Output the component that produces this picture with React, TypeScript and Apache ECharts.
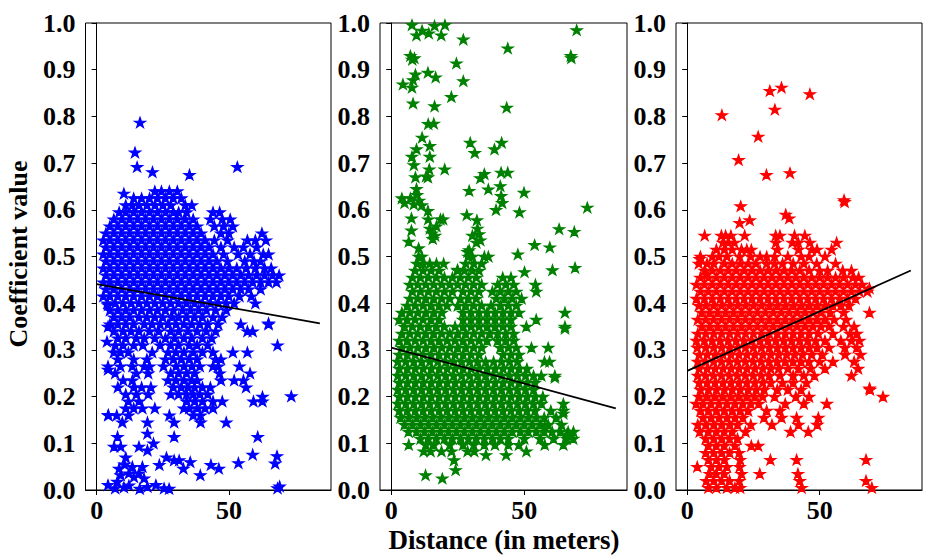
import React, { useEffect, useRef } from "react";
import * as echarts from "echarts";

// ---------- DATA ----------
// Dense parts are written as rows: [y, x1, x2, ...]; sparse points as [x, y].
const blueRows: number[][] = [
  [0.640, 22, 24.5, 27.5, 30.5],
  [0.625, 14, 17, 20, 23, 26, 29, 32],
  [0.610, 11, 13.5, 16, 19, 22, 25, 28, 33.5, 36],
  [0.595, 8.5, 11, 14, 17, 20, 23, 26, 29, 31, 34, 44, 46.5],
  [0.580, 6.5, 9.5, 12.5, 15.5, 18.5, 21.5, 24.5, 27.5, 30.5, 33.5, 36.5, 43, 47.5, 50.5],
  [0.565, 5, 8, 11, 14, 17, 20, 23, 26, 29, 32, 35, 38, 44.5, 48, 51.5],
  [0.550, 3.5, 6.5, 9.5, 12.5, 15.5, 18.5, 21.5, 24.5, 27.5, 30.5, 33.5, 36.5, 39.5, 47, 50, 62.5],
  [0.535, 2.5, 5, 8, 11, 14, 17, 20, 23, 26, 29, 32, 35, 38, 41, 44.5, 49.5, 57, 60, 64],
  [0.520, 3.5, 6.5, 9.5, 12.5, 15.5, 18.5, 21.5, 24.5, 27.5, 30.5, 33.5, 36.5, 39.5, 42.5, 47, 52, 55.5, 60.5],
  [0.505, 2.5, 5, 8, 11, 14, 17, 20, 23, 26, 29, 32, 35, 38, 41, 44, 48, 53.5, 58, 63, 65],
  [0.490, 3.5, 6.5, 9.5, 12.5, 15.5, 18.5, 21.5, 24.5, 27.5, 30.5, 33.5, 36.5, 39.5, 42.5, 45.5, 49.5, 56, 59.5, 62],
  [0.475, 2.5, 5, 8, 11, 14, 17, 20, 23, 26, 29, 32, 35, 38, 41, 44, 47, 50, 53, 56.5, 60, 63.5, 66],
  [0.460, 3.5, 6.5, 9.5, 12.5, 15.5, 18.5, 21.5, 24.5, 27.5, 30.5, 33.5, 36.5, 39.5, 42.5, 45.5, 48.5, 51.5, 54.5, 57.5, 60.5, 63.5, 66.5, 69],
  [0.445, 2.5, 5, 8, 11, 14, 17, 20, 23, 26, 29, 32, 35, 38, 41, 44, 47, 50, 53, 56, 59, 62, 65, 68],
  [0.430, 3.5, 6.5, 9.5, 12.5, 15.5, 18.5, 21.5, 24.5, 27.5, 30.5, 33.5, 36.5, 39.5, 42.5, 45.5, 48.5, 51.5, 54.5, 57.5, 62],
  [0.415, 2.5, 5, 8, 11, 14, 17, 20, 23, 26, 29, 32, 35, 38, 41, 44, 47, 50, 54, 58.5],
  [0.400, 4, 7, 10, 13, 16, 19, 22, 25, 28, 31, 34, 37, 40, 43, 46, 49, 52, 60],
  [0.385, 5, 8, 11, 14, 17, 20, 23, 26, 29, 32.5, 35.5, 38.5, 41.5, 45, 49],
  [0.370, 6.5, 9.5, 12.5, 16, 19, 22, 25, 28.5, 31, 34, 37, 40, 44, 47.5],
  [0.355, 5, 8, 11, 14, 18, 21, 24, 27, 30, 33, 36, 39, 42, 46, 54.5, 65],
  [0.340, 6.5, 10, 13, 16, 20, 23.5, 28, 31, 34.5, 38, 41.5, 45, 57, 59],
  [0.325, 8, 11, 15, 18, 22, 26, 29.5, 33, 36, 40, 43.5],
  [0.310, 7, 10, 14, 17.5, 24, 28, 31, 35, 38, 42, 68.4],
  [0.295, 6.5, 9, 12, 21, 27, 30, 33, 36.5, 40, 44, 51.5, 57],
  [0.280, 8, 14, 19, 26, 29, 32, 35, 38, 45, 47],
  [0.265, 4.3, 9, 13.5, 18, 20, 25.3, 30, 33, 36, 39, 44, 46, 54],
  [0.250, 7, 15, 19.5, 28, 31, 34, 37, 46.5, 58],
  [0.235, 10, 13.5, 27, 30, 33, 36, 38, 47, 52, 55.5],
  [0.220, 8, 14, 17, 20.5, 29, 32, 34.5, 37, 40, 43, 56.5],
  [0.205, 11, 15, 19.5, 28, 31, 34, 36.5, 39, 42],
  [0.190, 12, 16, 34, 37, 40, 44, 47.5, 59.3, 62.7],
  [0.175, 11, 14, 17.3, 22, 33, 35, 38, 41, 44],
  [0.160, 4.4, 7.6, 12, 27.5, 36.5, 39.3],
  [0.145, 9.7, 19.2, 29.3, 39.3, 49],
];
const blueExtra: number[][] = [
  [16.4, 0.787], [14.5, 0.723], [15.3, 0.692], [21.1, 0.681], [35.1, 0.675], [53.2, 0.692],
  [10.3, 0.635], [73.6, 0.201], [65, 0.357], [62.7, 0.2], [60.9, 0.114], [59, 0.076],
  [67.5, 0.057], [68.2, 0.073], [68.4, 0.004], [69.2, 0.008], [53.6, 0.058], [46.2, 0.046],
  [43.2, 0.054], [39.2, 0.032], [35.4, 0.06], [32.8, 0.046], [31.2, 0.064], [29.3, 0.064],
  [26.4, 0.07], [23.7, 0.054], [21.5, 0.1], [19.2, 0.085], [16, 0.093], [11, 0.07],
  [8.5, 0.046], [6.6, 0.093], [9.1, 0.093], [7.9, 0.114], [29.3, 0.114], [19.2, 0.121],
  [4.3, 0.396], [3.9, 0.318], [4.3, 0.35], [4.3, 0.258], [4.4, 0.161],
  [4.3, 0.011], [7.8, 0.018], [9.1, 0.032], [12.2, 0.036], [14.1, 0.028], [16, 0.036],
  [17.9, 0.025], [12.2, 0.01], [16.3, 0.003], [19.2, 0.007], [22.4, 0.011], [25.5, 0.004],
  [27.4, 0.003], [10.3, 0.006], [7, 0.004], [13.5, 0.05], [17.3, 0.05], [10.5, 0.055],
];

const greenRows: number[][] = [
  [0.500, 10.3, 11.5, 29, 30.5, 35, 36.5],
  [0.485, 9.7, 12, 14.5, 17, 19.7, 28, 31, 34],
  [0.470, 9, 12, 15, 18, 25, 27.5, 30.5, 33],
  [0.455, 8, 11, 14, 17, 20, 23, 26, 29, 32, 41.9, 45],
  [0.440, 7, 10, 13, 16, 19, 22, 25, 28, 31, 34, 40, 43, 46, 54.2],
  [0.425, 8, 11, 14, 17, 20, 23, 27, 30, 33, 38, 41, 44, 47, 54.5],
  [0.410, 7, 10, 13, 16, 19, 22, 26, 29, 32, 39.5, 42.5, 45.5, 49],
  [0.395, 6, 9, 12, 15, 18, 21, 25, 28, 31, 34, 37.5, 41, 44, 47],
  [0.380, 4, 7, 10, 13, 16, 19, 27, 30, 33, 36, 39, 42, 45, 48, 65.3],
  [0.365, 3, 6, 9, 12, 15, 18, 27, 30, 33, 36, 39, 42, 45, 54.5],
  [0.350, 5, 8, 11, 14, 17, 20, 24, 27, 30, 33, 36, 39, 42, 45, 50.8, 65.3],
  [0.335, 4, 7, 10, 13, 16, 19, 22, 25, 28, 31, 34, 37, 40, 43, 46],
  [0.320, 3, 6, 9, 12, 15, 18, 21, 24, 27, 30, 33, 36, 40, 43, 46],
  [0.305, 4, 7, 10, 13, 16, 19, 22, 25, 28, 31, 34, 41, 44, 47, 52.7, 59],
  [0.290, 3, 6, 9, 12, 15, 18, 21, 24, 27, 30, 33, 42, 45, 48],
  [0.275, 2.5, 5.5, 8.5, 11.5, 14.5, 17.5, 20.5, 23.5, 26.5, 29.5, 32.5, 35.5, 38.5, 41.5, 44.5, 47.5, 57.6, 59.5],
  [0.260, 3, 6, 9, 12, 15, 18, 21, 24, 27, 30, 33, 36, 39, 42, 45, 48, 51],
  [0.245, 2.5, 5.5, 8.5, 11.5, 14.5, 17.5, 20.5, 23.5, 26.5, 29.5, 32.5, 35.5, 38.5, 41.5, 44.5, 47.5, 50.5, 53.5, 56.4, 61.5],
  [0.230, 3, 6, 9, 12, 15, 18, 21, 24, 27, 30, 33, 36, 39, 42, 45, 48, 51, 54],
  [0.215, 2.5, 5.5, 8.5, 11.5, 14.5, 17.5, 20.5, 23.5, 26.5, 29.5, 32.5, 35.5, 38.5, 41.5, 44.5, 47.5, 50.5, 53.5],
  [0.200, 3, 6, 9, 12, 15, 18, 21, 24, 27, 30, 33, 36, 39, 42, 45, 48, 51, 54, 57],
  [0.185, 2.5, 5.5, 8.5, 11.5, 14.5, 17.5, 20.5, 23.5, 26.5, 29.5, 32.5, 35.5, 38.5, 41.5, 44.5, 47.5, 50.5, 53.5, 56.5, 64.7],
  [0.170, 3, 6, 9, 12, 15, 18, 21, 24, 27, 30, 33, 36, 39, 42, 45, 48, 51, 54, 60, 64.7],
  [0.155, 3.5, 6.5, 9.5, 12.5, 15.5, 18.5, 21.5, 24.5, 27.5, 30.5, 33.5, 36.5, 39.5, 42.5, 45.5, 48.5, 51.5, 54.5, 57.5, 62],
  [0.140, 5, 8, 11, 14, 17, 20, 23, 26, 29, 32, 35, 38, 41, 44, 47, 50, 53, 56, 59, 64],
  [0.125, 6.5, 9.5, 12.5, 15.5, 18.5, 21.5, 24.5, 27.5, 30.5, 33.5, 36.5, 39.5, 42.5, 45.5, 48.5, 51.5, 54.5, 57.5, 60.5, 63.5, 66.5, 68.5],
  [0.110, 11, 14, 17, 20, 23, 26, 29, 32, 35, 38, 41, 44, 50, 56, 61, 66, 68.4],
  [0.097, 6.6, 13, 16, 22, 27, 31, 35, 39, 44, 48, 57.7, 64.7],
  [0.083, 12.2, 14.8, 18.9, 22.7, 28.7, 31.2, 50.8],
  [0.075, 35.6, 43.2],
];
const greenExtra: number[][] = [
  [23.6, 0.064], [24.2, 0.043], [12.9, 0.032], [19.2, 0.025],
  [7.8, 0.996], [9.5, 0.974], [11.6, 0.984], [14.1, 0.978], [16.3, 0.994], [18.8, 0.974],
  [20.2, 0.996], [27.1, 0.965], [43.8, 0.946], [69.7, 0.985], [67.5, 0.93], [67.7, 0.925],
  [7.2, 0.93], [7.9, 0.922], [8.7, 0.925], [4.4, 0.869], [7.8, 0.862], [8.2, 0.878],
  [9.1, 0.89], [13.8, 0.894], [16.7, 0.884], [24.5, 0.914], [27.1, 0.876], [22.6, 0.842],
  [8.2, 0.828], [16.3, 0.822], [43.4, 0.819], [13.9, 0.784], [16, 0.785], [11.6, 0.755],
  [9.5, 0.73], [14.5, 0.737], [7.8, 0.714], [8.5, 0.696], [14.5, 0.714], [9.1, 0.67],
  [13.1, 0.672], [14.3, 0.687], [13.8, 0.67], [20.1, 0.687], [29.7, 0.744], [31.4, 0.722],
  [38.8, 0.73], [41.5, 0.744], [33.5, 0.668], [35, 0.677], [41.3, 0.68], [43.8, 0.68],
  [29.3, 0.641], [36.5, 0.644], [41, 0.651], [41.3, 0.63], [41.7, 0.615], [39.4, 0.6],
  [49.9, 0.637], [48.2, 0.595], [73.7, 0.605], [28.4, 0.589], [4, 0.625], [5, 0.615],
  [7.2, 0.625], [8.5, 0.612], [9.5, 0.645], [9.7, 0.632], [10.5, 0.62], [11.5, 0.61],
  [13.8, 0.598], [7.6, 0.582], [7.6, 0.556], [6.6, 0.532], [13.9, 0.58], [14.5, 0.56],
  [15.3, 0.55], [16.5, 0.545], [17, 0.565], [18.5, 0.58], [19.5, 0.58], [15.6, 0.538],
  [32.2, 0.578], [32.4, 0.56], [33, 0.548], [33.5, 0.535], [30.5, 0.545], [32, 0.53],
  [28.7, 0.51], [29.3, 0.514], [47.6, 0.505], [53.9, 0.525], [59.6, 0.52], [63.1, 0.559],
  [68.8, 0.553], [60.6, 0.471], [69.1, 0.476], [50.1, 0.467], [24.9, 0.472], [10.3, 0.518],
  [66, 0.119], [57.7, 0.135], [64.7, 0.164], [61.5, 0.241], [65.3, 0.346],
];

const redRows: number[][] = [
  [0.545, 6.6, 12.9, 14.5, 16.5, 21.7, 33.4, 35, 40.5, 44.4],
  [0.530, 13.5, 15.5, 17.8, 33.5, 39.7, 41.9, 46.3, 56.4],
  [0.515, 11, 14, 17, 20.5, 22.5, 24.2, 34, 42, 47, 49, 54.5],
  [0.500, 5, 9.5, 12, 15, 19.8, 24, 27.5, 30, 33, 38, 43, 46, 52],
  [0.485, 4.4, 7.5, 10, 14, 17, 20, 23, 26, 30, 33, 36, 40, 44, 48.9, 56],
  [0.470, 6.6, 9.5, 12.5, 15.5, 18.5, 21.5, 24.5, 27.5, 30.5, 33.5, 36.5, 39.5, 42.5, 46, 50, 53, 58.7, 62],
  [0.455, 5, 8, 11, 14, 17, 20, 23, 26, 29, 32, 35, 38, 41, 44, 47, 50, 53, 56, 59, 62.5, 64.7],
  [0.440, 3.5, 6.5, 9.5, 12.5, 15.5, 18.5, 21.5, 24.5, 27.5, 30.5, 33.5, 36.5, 39.5, 42.5, 45.5, 48.5, 51.5, 54.5, 57.5, 60.5, 63.5, 66],
  [0.425, 5, 8, 11, 14, 17, 20, 23, 26, 29, 32, 35, 38, 41, 44, 47, 50, 53, 56, 59, 62, 65, 68],
  [0.410, 3.5, 6.5, 9.5, 12.5, 15.5, 18.5, 21.5, 24.5, 27.5, 30.5, 33.5, 36.5, 39.5, 42.5, 45.5, 48.5, 51.5, 54.5, 57.5, 60.5, 63.5],
  [0.395, 4.4, 7, 10, 13, 16, 19, 22, 25, 28, 31, 34, 37, 40, 43, 46, 49, 52, 55, 58, 61],
  [0.380, 5.5, 8.5, 11.5, 14.5, 17.5, 20.5, 23.5, 26.5, 29.5, 32.5, 35.5, 38.5, 41.5, 44.5, 47.5, 50.5, 54, 59, 68.8],
  [0.365, 4, 7, 10, 13, 16, 19, 22, 25, 28, 31, 34, 37, 40, 43, 46, 49, 52, 55.5, 60],
  [0.350, 5.5, 8.5, 11.5, 14.5, 17.5, 20.5, 23.5, 26.5, 29.5, 32.5, 35.5, 38.5, 41.5, 44.5, 47.5, 50.5, 53.5, 59, 63],
  [0.335, 4, 7, 10, 13, 16, 19, 22, 25, 28, 31, 34, 37, 40, 43, 46, 49.5, 55, 61.5, 64],
  [0.320, 3.5, 6.5, 9.5, 12.5, 15.5, 18.5, 21.5, 24.5, 27.5, 30.5, 33.5, 36.5, 39.5, 42.5, 45.5, 48.5, 52, 58, 62, 65],
  [0.305, 3.8, 7, 10, 13, 16, 19, 22, 25, 28, 31, 34, 37, 40, 43, 46, 49, 53.5, 59.5, 64],
  [0.290, 4.5, 7.5, 10.5, 13.5, 16.5, 19.5, 22.5, 25.5, 28.5, 31.5, 34.5, 37.5, 40.5, 43.5, 47, 51, 59.6, 65.4],
  [0.275, 4, 7, 10, 13, 16, 19, 22, 25, 28, 31, 34, 37, 40, 43, 46, 50, 55, 63],
  [0.260, 4.5, 7.5, 10.5, 13.5, 16.5, 19.5, 22.5, 25.5, 28.5, 31.5, 34.5, 38, 42, 46.5, 52, 64.5],
  [0.245, 4, 7, 10, 13, 16, 19, 22, 25, 28, 31, 35, 40, 44, 48, 62],
  [0.230, 4.5, 7.5, 10.5, 13.5, 16.5, 19.5, 22.5, 25.5, 28.5, 31.5, 36, 40, 45],
  [0.215, 5, 8, 11, 14, 17, 20, 23, 26, 29, 34, 38, 43, 69],
  [0.200, 4.5, 7.5, 10.5, 13.5, 16.5, 19.5, 22.5, 25.5, 28.5, 33, 41, 46, 73.9],
  [0.185, 3.4, 6, 9, 12, 15, 18, 21, 24, 27, 37, 44, 52.7],
  [0.170, 5, 8, 11, 14, 17, 20, 23, 30, 35],
  [0.155, 6, 9, 12, 15, 18, 21, 29, 35.6, 41.3, 49.5],
  [0.140, 4, 7, 10, 13, 16, 19, 24, 32, 42, 49.1],
  [0.125, 4.7, 8, 11, 14, 17, 22, 39, 45.7],
  [0.110, 7, 10, 13, 16, 19],
  [0.095, 8, 11, 14, 18, 24.2, 26.8],
  [0.080, 7, 10, 13, 16, 19.6],
  [0.065, 8, 11, 14, 20, 31.4, 41.3, 67.5],
  [0.050, 3.8, 9, 12, 15, 19.8],
  [0.035, 8.5, 11, 14, 20.5, 27.4, 41.8],
  [0.020, 7.2, 10, 13, 16, 19.7, 42.5, 67.5],
  [0.005, 8, 11, 15, 18, 20, 43.2, 69.7],
];
const redExtra: number[][] = [
  [13.1, 0.803], [31.2, 0.855], [35.6, 0.862], [33.1, 0.815], [46.3, 0.848], [26.8, 0.757],
  [19.4, 0.707], [29.9, 0.675], [38.8, 0.679], [59.2, 0.621], [20.2, 0.608], [19.8, 0.572],
  [23.6, 0.578], [37.2, 0.59], [38.5, 0.582], [68.8, 0.432], [68.8, 0.218], [4.7, 0.495],
  [7.2, 0.462], [59.4, 0.617],
];

// Fitted regression lines: [x, y] end points
const blueFit: number[][] = [[0, 0.441], [84.4, 0.357]];
const greenFit: number[][] = [[0, 0.305], [84.4, 0.175]];
const redFit: number[][] = [[0, 0.255], [84.4, 0.47]];

const xTicks: number[] = [0, 50];
const yLabelText = "Coefficient value";
const xLabelText = "Distance (in meters)";

// ---------- helpers ----------
function rowsToPoints(rows: number[][]): number[][] {
  const pts: number[][] = [];
  rows.forEach((r) => {
    const y = r[0];
    for (let i = 1; i < r.length; i++) pts.push([r[i], y]);
  });
  return pts;
}

const STAR =
  "path://M50,0 L61.8,36.2 L100,36.2 L69.1,58.6 L80.9,95 L50,72.6 L19.1,95 L30.9,58.6 L0,36.2 L38.2,36.2 Z";
const FONT = "'Liberation Serif', 'Times New Roman', Times, serif";

export default function App() {
  const ref = useRef<HTMLDivElement>(null);

  useEffect(() => {
    if (!ref.current) return;
    const chart = echarts.init(ref.current, null, { renderer: "svg" });

    const grids = [
      { left: 85.5, width: 245.5 },
      { left: 380, width: 247 },
      { left: 676, width: 246 },
    ];
    const panels = [
      { color: "#0000ff", pts: rowsToPoints(blueRows).concat(blueExtra), fit: blueFit },
      { color: "#008000", pts: rowsToPoints(greenRows).concat(greenExtra), fit: greenFit },
      { color: "#ff0000", pts: rowsToPoints(redRows).concat(redExtra), fit: redFit },
    ];

    const labelStyle = {
      fontFamily: FONT,
      fontWeight: "bold" as const,
      fontSize: 26,
      lineHeight: 26,
      color: "#000",
    };

    const option: any = {
      animation: false,
      backgroundColor: "#fff",
      grid: grids.map((g) => ({
        left: g.left,
        top: 23,
        width: g.width,
        height: 467,
        show: true,
        borderColor: "#000",
        borderWidth: 1,
        backgroundColor: "transparent",
        containLabel: false,
      })),
      xAxis: grids.map((_, i) => ({
        gridIndex: i,
        type: "value",
        min: -4.22,
        max: 88.62,
        splitLine: { show: false },
        axisLine: { show: true, onZero: false, lineStyle: { color: "#000", width: 1 } },
        axisTick: {
          show: true,
          length: 5,
          customValues: xTicks,
          lineStyle: { color: "#000", width: 1 },
        },
        axisLabel: { ...labelStyle, margin: 7, customValues: xTicks, formatter: (v: number) => String(v) },
      })),
      yAxis: grids.map((_, i) => ({
        gridIndex: i,
        type: "value",
        min: 0,
        max: 1,
        interval: 0.1,
        splitLine: { show: false },
        axisLine: { show: true, lineStyle: { color: "#000", width: 1 } },
        axisTick: { show: true, length: 5, lineStyle: { color: "#000", width: 1 } },
        axisLabel: { ...labelStyle, margin: 10, formatter: (v: number) => v.toFixed(1) },
      })),
      series: panels.flatMap((p, i) => [
        {
          type: "scatter",
          xAxisIndex: i,
          yAxisIndex: i,
          data: p.pts,
          symbol: STAR,
          symbolSize: [11, 10],
          itemStyle: { color: p.color, opacity: 1, borderColor: p.color, borderWidth: 1.2 },
          silent: true,
        },
        {
          type: "line",
          xAxisIndex: i,
          yAxisIndex: i,
          data: p.fit,
          symbol: "none",
          lineStyle: { color: "#000", width: 1.8 },
          silent: true,
          z: 5,
        },
      ]),
      graphic: [
        {
          type: "text",
          x: 18,
          y: 254,
          rotation: Math.PI / 2,
          style: {
            text: yLabelText,
            font: `bold 26px ${FONT}`,
            fill: "#000",
            textAlign: "center",
            textVerticalAlign: "middle",
          },
        },
        {
          type: "text",
          x: 504,
          y: 540,
          style: {
            text: xLabelText,
            font: `bold 27px ${FONT}`,
            fill: "#000",
            textAlign: "center",
            textVerticalAlign: "middle",
          },
        },
      ],
    };

    chart.setOption(option);
    return () => chart.dispose();
  }, []);

  return (
    <div
      ref={ref}
      style={{ position: "absolute", left: 0, top: 0, width: 939, height: 557 }}
    />
  );
}
